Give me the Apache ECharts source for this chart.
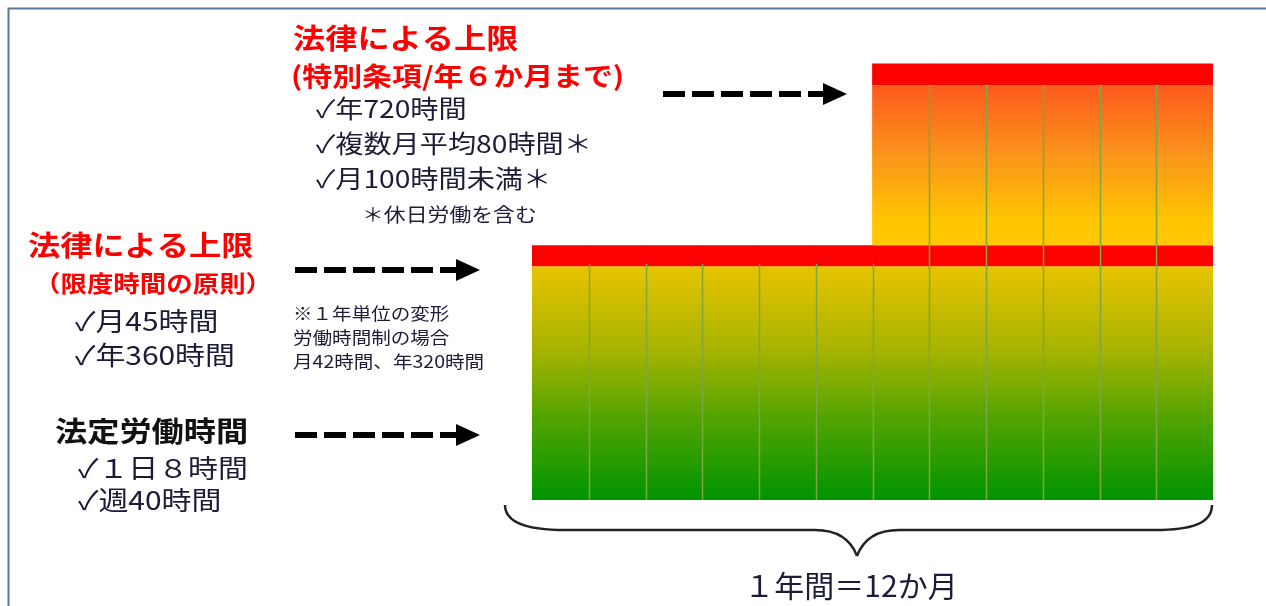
<!DOCTYPE html>
<html>
<head>
<meta charset="utf-8">
<script src="https://cdn.jsdelivr.net/npm/echarts@6/dist/echarts.min.js"></script>
<style>
  html, body { margin: 0; padding: 0; background: #fff; }
  #chart { width: 1266px; height: 606px; }
</style>
</head>
<body>
<div id="chart"></div>
<script>
// 12か月
const months = ['1月', '2月', '3月', '4月', '5月', '6月', '7月', '8月', '9月', '10月', '11月', '12月'];
// 原則の上限（本体 + 赤い上限帯）
const baseBody = [53.5, 53.5, 53.5, 53.5, 53.5, 53.5, 53.5, 53.5, 53.5, 53.5, 53.5, 53.5];
const baseCap = [4.8, 4.8, 4.8, 4.8, 4.8, 4.8, 4.8, 4.8, 4.8, 4.8, 4.8, 4.8];
// 特別条項（年6か月まで）
const extraBody = [null, null, null, null, null, null, 36.6, 36.6, 36.6, 36.6, 36.6, 36.6];
const extraCap = [null, null, null, null, null, null, 5.0, 5.0, 5.0, 5.0, 5.0, 5.0];
// 月の区切り線 [左の月, 線の上端]
const dividers = [[0, 54], [1, 54], [2, 54], [3, 54], [4, 54], [5, 54], [6, 95], [7, 95], [8, 95], [9, 95], [10, 95]];

const chart = echarts.init(document.getElementById('chart'));

const JP = '"Noto Sans CJK JP", "Noto Sans", sans-serif';
const RED = '#ff0000';
const INK = '#1c1c38';
const SX = 1.15; // 元図の文字は横に少し広い
const BW = 57.5;  // 隣の棒と少し重ねて継ぎ目を消す

function txt(x, y, text, size, color, bold) {
    return {
        type: 'text', x: x, y: y, scaleX: SX,
        style: {
            text: text,
            font: (bold ? 'bold ' : '') + size + 'px ' + JP,
            fill: color,
            verticalAlign: 'middle'
        }
    };
}

function arrow(x0, tip, y) {
    return {
        type: 'group',
        children: [
            {
                type: 'line',
                shape: { x1: x0, y1: y, x2: tip - 18, y2: y },
                style: { stroke: '#000', lineWidth: 6, lineDash: [22, 7] }
            },
            {
                type: 'polygon',
                shape: { points: [[tip - 24, y - 11], [tip, y], [tip - 24, y + 11]] },
                style: { fill: '#000' }
            }
        ]
    };
}

function grad(stops) {
    return { type: 'linear', x: 0, y: 0, x2: 0, y2: 1, colorStops: stops };
}

const braceStyle = { fill: 'none', stroke: '#222', lineWidth: 2.5 };
function curve(x1, y1, cpx1, cpy1, cpx2, cpy2, x2, y2) {
    return {
        type: 'bezierCurve',
        shape: { x1: x1, y1: y1, cpx1: cpx1, cpy1: cpy1, cpx2: cpx2, cpy2: cpy2, x2: x2, y2: y2 },
        style: braceStyle
    };
}
function seg(x1, y1, x2, y2) {
    return { type: 'line', shape: { x1: x1, y1: y1, x2: x2, y2: y2 }, style: braceStyle };
}

const option = {
    animation: false,
    grid: { left: 532, right: 53, top: 63, bottom: 106 },
    xAxis: { type: 'category', data: months, show: false },
    yAxis: { type: 'value', min: 0, max: 100, show: false },
    series: [
        {
            type: 'bar', stack: 'm', data: baseBody, barWidth: BW,
            itemStyle: {
                color: grad([
                    { offset: 0, color: '#e8c400' },
                    { offset: 0.35, color: '#a9b400' },
                    { offset: 0.65, color: '#52a400' },
                    { offset: 1, color: '#009400' }
                ])
            }
        },
        { type: 'bar', stack: 'm', data: baseCap, barWidth: BW, itemStyle: { color: RED } },
        {
            type: 'bar', stack: 'm', data: extraBody, barWidth: BW,
            itemStyle: {
                color: grad([
                    { offset: 0, color: '#fd5a1e' },
                    { offset: 0.45, color: '#fa961a' },
                    { offset: 0.85, color: '#ffc600' },
                    { offset: 1, color: '#ffc800' }
                ])
            }
        },
        { type: 'bar', stack: 'm', data: extraCap, barWidth: BW, itemStyle: { color: RED } },
        {
            type: 'custom', data: dividers, z: 5,
            renderItem: function (params, api) {
                const i = api.value(0);
                const p0 = api.coord([i, 0]);
                const p1 = api.coord([i, api.value(1)]);
                const x = Math.round(p0[0] + api.size([1, 0])[0] / 2) + 0.5;
                return {
                    type: 'line',
                    shape: { x1: x, y1: p1[1], x2: x, y2: p0[1] },
                    style: { stroke: '#7ea642', lineWidth: 1.5 }
                };
            }
        }
    ],
    graphic: [
        // 枠線
        {
            type: 'rect', shape: { x: 8.5, y: 8.5, width: 1400, height: 800 },
            style: { fill: 'none', stroke: '#58789c', lineWidth: 2 }
        },
        // 特別条項
        txt(293, 38, '法律による上限', 28, RED, true),
        txt(291, 76, '(特別条項/年６か月まで)', 26, RED, true),
        txt(316, 109, '✓年720時間', 24.5, INK, false),
        txt(316, 144, '✓複数月平均80時間＊', 24.5, INK, false),
        txt(316, 179, '✓月100時間未満＊', 24.5, INK, false),
        txt(362, 215, '＊休日労働を含む', 19, INK, false),
        arrow(663, 847, 94),
        // 限度時間の原則
        txt(28, 245, '法律による上限', 28, RED, true),
        txt(34, 283, '（限度時間の原則）', 23, RED, true),
        txt(75, 321, '✓月45時間', 26, INK, false),
        txt(75, 355, '✓年360時間', 26, INK, false),
        txt(293, 314, '※１年単位の変形', 17, INK, false),
        txt(293, 338, '労働時間制の場合', 17, INK, false),
        txt(293, 362, '月42時間、年320時間', 17, INK, false),
        arrow(295, 480, 270),
        // 法定労働時間
        txt(55, 431, '法定労働時間', 28, '#111', true),
        txt(78, 468, '✓１日８時間', 26, INK, false),
        txt(78, 500, '✓週40時間', 26, INK, false),
        arrow(295, 480, 435),
        // 波括弧
        curve(505, 505, 505, 524, 530, 530, 565, 530),
        seg(565, 530, 815, 530),
        curve(815, 530, 838, 530, 851, 540, 857, 556),
        curve(857, 556, 863, 540, 876, 530, 899, 530),
        seg(899, 530, 1155, 530),
        curve(1155, 530, 1190, 530, 1212, 524, 1212, 505),
        {
            type: 'text', x: 851, y: 586,
            style: {
                text: '１年間＝12か月', font: '30px ' + JP, fill: INK,
                align: 'center', verticalAlign: 'middle'
            }
        }
    ]
};

chart.setOption(option);
</script>
</body>
</html>
